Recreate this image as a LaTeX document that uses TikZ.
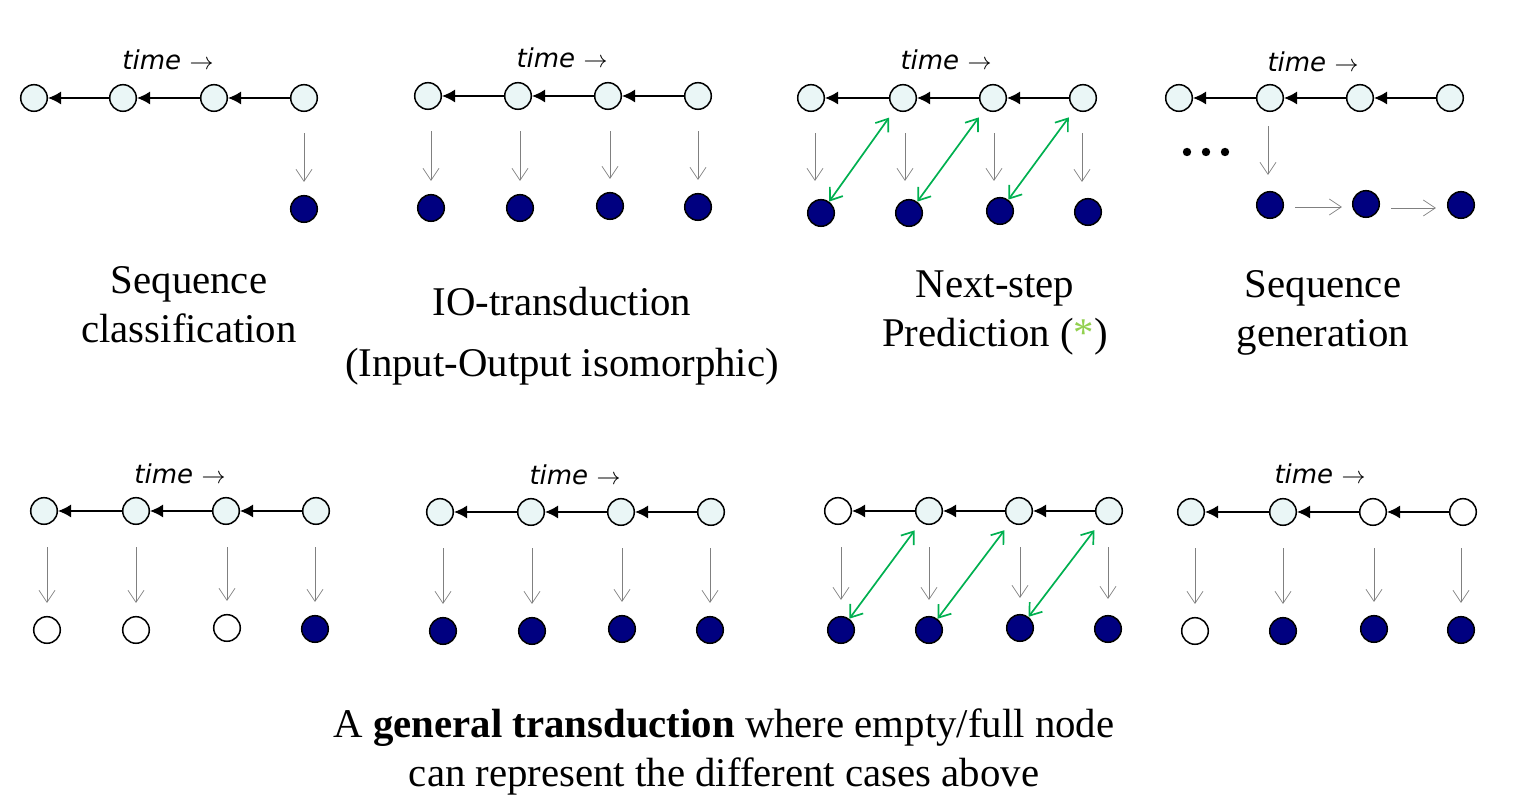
\documentclass[tikz,border=0pt]{standalone}
\usepackage{fontspec}
\setmainfont{Liberation Serif}
\newfontfamily\timefont{DejaVu Sans}
\usetikzlibrary{arrows.meta,calc}
\definecolor{hidfill}{HTML}{EAF6F6}
\definecolor{navy}{HTML}{000080}
\definecolor{grn}{HTML}{00B050}
\definecolor{star}{HTML}{92D050}
\begin{document}
\begin{tikzpicture}[x=0.5pt,y=-0.5pt,
 st/.style={circle,draw=black,line width=0.75pt,minimum size=13.3pt,inner sep=0pt},
 hid/.style={st,fill=hidfill},
 emp/.style={st,fill=white},
 full/.style={st,fill=navy},
 rec/.style={-{Latex[length=6.5pt,width=6.5pt]},line width=0.65pt},
 outa/.style={-{Straight Barb[length=6pt,width=8pt]},draw=gray,line width=0.35pt},
 grna/.style={{Straight Barb[length=5.5pt,width=8pt]}-{Straight Barb[length=5.5pt,width=8pt]},draw=grn,line width=0.85pt},
 tlab/.style={font=\timefont\itshape\fontsize{13}{15}\selectfont},
 captxt/.style={align=center,font=\fontsize{20.4}{24.5}\selectfont}
]
\useasboundingbox (0,0) rectangle (1523,795);

% ---------- Panel 1: sequence classification
\node[tlab] (at) at (168,60) {time \(\rightarrow\)};
\node[hid] (aH1) at (34,98) {};
\node[hid] (aH2) at (123,98) {};
\node[hid] (aH3) at (214,98) {};
\node[hid] (aH4) at (304,98) {};
\node[full] (aO4) at (304,209) {};
\draw[rec] (aH2) -- (aH1);
\draw[rec] (aH3) -- (aH2);
\draw[rec] (aH4) -- (aH3);
\draw[outa] ([yshift=-10.5pt]aH4.south) -- ([yshift=6.5pt]aO4.north);
\node[captxt] (acap) at (189,305) {Sequence\\classification};

% ---------- Panel 2: IO-transduction
\node[tlab] (bt) at (562,58) {time \(\rightarrow\)};
\node[hid] (bH1) at (428,96) {};
\node[hid] (bH2) at (518,96) {};
\node[hid] (bH3) at (608,96) {};
\node[hid] (bH4) at (698,96) {};
\node[full] (bO1) at (431,208) {};
\node[full] (bO2) at (520,208) {};
\node[full] (bO3) at (610,206) {};
\node[full] (bO4) at (698,207) {};
\draw[rec] (bH2) -- (bH1);
\draw[rec] (bH3) -- (bH2);
\draw[rec] (bH4) -- (bH3);
\foreach \i in {1,2,3,4}{
  \draw[outa] ([yshift=-10.5pt]bH\i.south -| bO\i.north) -- ([yshift=6.5pt]bO\i.north);
}
\node[captxt] (bcap) at (562,336) {IO-transduction\\[0.3em](Input-Output isomorphic)};

% ---------- Panel 3: next-step prediction
\node[tlab] (ct) at (946,60) {time \(\rightarrow\)};
\node[hid] (cH1) at (811,98) {};
\node[hid] (cH2) at (903,98) {};
\node[hid] (cH3) at (993,98) {};
\node[hid] (cH4) at (1083,98) {};
\node[full] (cO1) at (821,213) {};
\node[full] (cO2) at (909,213) {};
\node[full] (cO3) at (1000,211) {};
\node[full] (cO4) at (1088,212) {};
\draw[rec] (cH2) -- (cH1);
\draw[rec] (cH3) -- (cH2);
\draw[rec] (cH4) -- (cH3);
\draw[outa] ([xshift=2pt,yshift=-10.5pt]cH1.south) -- ([xshift=-3pt,yshift=9pt]cO1.north);
\draw[outa] ([xshift=1pt,yshift=-10.5pt]cH2.south) -- ([xshift=-2pt,yshift=9pt]cO2.north);
\draw[outa] ([xshift=0.5pt,yshift=-10.5pt]cH3.south) -- ([xshift=-3pt,yshift=8pt]cO3.north);
\draw[outa] ([xshift=-0.5pt,yshift=-10.5pt]cH4.south) -- ([xshift=-3pt,yshift=8pt]cO4.north);
\draw[grna, shorten >=5pt] (cO1) -- (cH2);
\draw[grna, shorten >=5pt] (cO2) -- (cH3);
\draw[grna, shorten >=5pt] (cO3) -- (cH4);
\node[captxt] (ccap) at (995,313) {Next-step\\Prediction ({\color{star}*})};

% ---------- Panel 4: sequence generation
\node[tlab] (dt) at (1313,62) {time \(\rightarrow\)};
\node[hid] (dH1) at (1179,98) {};
\node[hid] (dH2) at (1270,98) {};
\node[hid] (dH3) at (1360,98) {};
\node[hid] (dH4) at (1450,98) {};
\node[full] (dO1) at (1270,205) {};
\node[full] (dO2) at (1366,204) {};
\node[full] (dO3) at (1461,205) {};
\draw[rec] (dH2) -- (dH1);
\draw[rec] (dH3) -- (dH2);
\draw[rec] (dH4) -- (dH3);
\draw[outa] ([xshift=-1pt,yshift=-7pt]dH2.south) -- ([xshift=-1pt,yshift=8pt]dO1.north);
\draw[outa] ([xshift=5.5pt,yshift=-1pt]dO1.east) -- ([xshift=-5pt,yshift=-1.5pt]dO2.west);
\draw[outa] ([xshift=5.5pt,yshift=-2pt]dO2.east) -- ([xshift=-5.5pt,yshift=-1.5pt]dO3.west);
\fill (1187,152) circle (2.1pt) (1206,152) circle (2.1pt) (1225,152) circle (2.1pt);
\node[captxt] (dcap) at (1323,313) {Sequence\\generation};

% ---------- Panel 5
\node[tlab] (et) at (180,474) {time \(\rightarrow\)};
\node[hid] (eH1) at (44,511) {};
\node[hid] (eH2) at (136,511) {};
\node[hid] (eH3) at (226,511) {};
\node[hid] (eH4) at (316,511) {};
\node[emp] (eO1) at (47,630) {};
\node[emp] (eO2) at (136,630) {};
\node[emp] (eO3) at (227,628) {};
\node[full] (eO4) at (315,629) {};
\draw[rec] (eH2) -- (eH1);
\draw[rec] (eH3) -- (eH2);
\draw[rec] (eH4) -- (eH3);
\foreach \i in {1,2,3,4}{
  \draw[outa] ([yshift=-11pt]eH\i.south -| eO\i.north) -- ([yshift=6.5pt]eO\i.north);
}

% ---------- Panel 6
\node[tlab] (ft) at (575,475) {time \(\rightarrow\)};
\node[hid] (fH1) at (440,512) {};
\node[hid] (fH2) at (531,512) {};
\node[hid] (fH3) at (621,512) {};
\node[hid] (fH4) at (711,512) {};
\node[full] (fO1) at (443,631) {};
\node[full] (fO2) at (532,631) {};
\node[full] (fO3) at (622,629) {};
\node[full] (fO4) at (710,630) {};
\draw[rec] (fH2) -- (fH1);
\draw[rec] (fH3) -- (fH2);
\draw[rec] (fH4) -- (fH3);
\foreach \i in {1,2,3,4}{
  \draw[outa] ([yshift=-11pt]fH\i.south -| fO\i.north) -- ([yshift=6.5pt]fO\i.north);
}

% ---------- Panel 7
\node[emp] (gH1) at (838,511) {};
\node[hid] (gH2) at (929,511) {};
\node[hid] (gH3) at (1019,511) {};
\node[hid] (gH4) at (1109,511) {};
\node[full] (gO1) at (841,630) {};
\node[full] (gO2) at (929,630) {};
\node[full] (gO3) at (1020,628) {};
\node[full] (gO4) at (1108,629) {};
\draw[rec] (gH2) -- (gH1);
\draw[rec] (gH3) -- (gH2);
\draw[rec] (gH4) -- (gH3);
\foreach \i in {1,2,3,4}{
  \draw[outa] ([yshift=-11pt]gH\i.south -| gO\i.north) -- ([yshift=8pt]gO\i.north);
}
\draw[grna, shorten >=5pt] (gO1) -- (gH2);
\draw[grna, shorten >=5pt] (gO2) -- (gH3);
\draw[grna, shorten >=5pt] (gO3) -- (gH4);

% ---------- Panel 8
\node[tlab] (ht) at (1320,474) {time \(\rightarrow\)};
\node[hid] (hH1) at (1191,512) {};
\node[hid] (hH2) at (1283,512) {};
\node[emp] (hH3) at (1373,512) {};
\node[emp] (hH4) at (1463,512) {};
\node[emp] (hO1) at (1195,631) {};
\node[full] (hO2) at (1283,631) {};
\node[full] (hO3) at (1374,629) {};
\node[full] (hO4) at (1461,630) {};
\draw[rec] (hH2) -- (hH1);
\draw[rec] (hH3) -- (hH2);
\draw[rec] (hH4) -- (hH3);
\foreach \i in {1,2,3,4}{
  \draw[outa] ([yshift=-11pt]hH\i.south -| hO\i.north) -- ([yshift=6.5pt]hO\i.north);
}

% ---------- bottom caption
\node[captxt] (gcap) at (724,752) {A \textbf{general transduction} where empty/full node\\can represent the different cases above};
\end{tikzpicture}
\end{document}
